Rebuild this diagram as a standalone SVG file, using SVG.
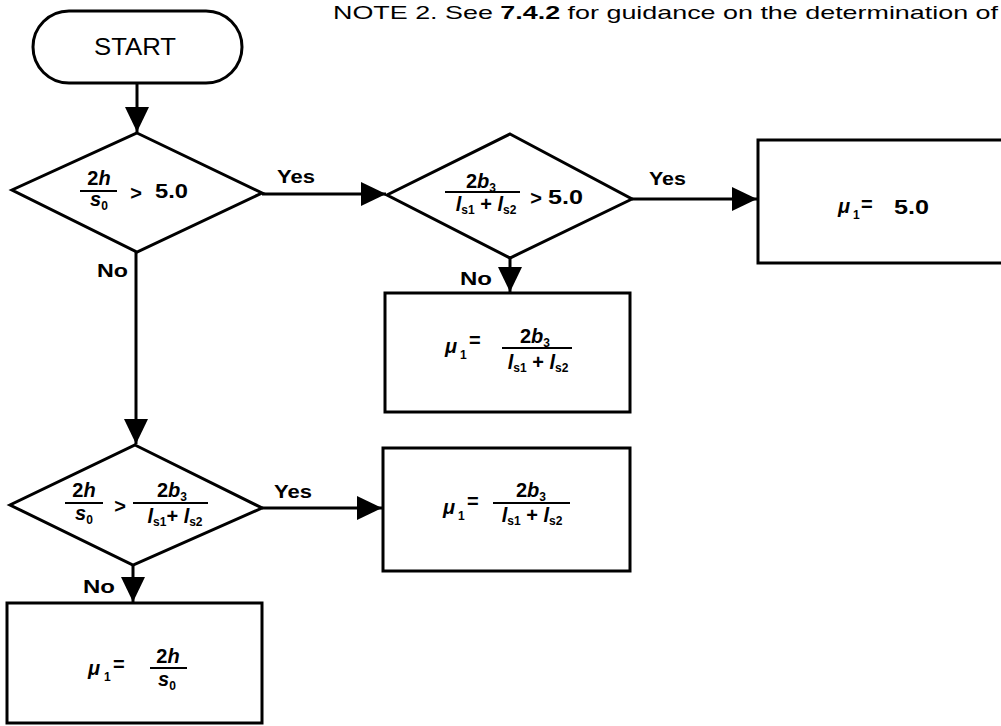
<svg xmlns="http://www.w3.org/2000/svg" width="1001" height="726" viewBox="0 0 1001 726">
<style>
.shape{fill:#fff;stroke:#000;stroke-width:3}
.conn{stroke:#000;stroke-width:3;fill:none}
.fl{stroke:#000;stroke-width:2}
text{font-family:"Liberation Sans",Arial,sans-serif;fill:#000}
.b{font-weight:bold}
.lbl{font-size:18px;font-weight:bold}
.m{font-size:20px;font-weight:bold}
.i{font-style:italic}
.sub{font-size:12px;font-weight:bold}
</style>
<defs>
<marker id="ah" markerWidth="26" markerHeight="26" refX="25" refY="12" orient="auto" markerUnits="userSpaceOnUse">
<path d="M0,0 L25,12 L0,24 z" fill="#000"/>
</marker>
</defs>
<rect width="1001" height="726" fill="#fff"/>
<text id="note" x="333" y="19" font-size="19" textLength="665" lengthAdjust="spacingAndGlyphs">NOTE 2. See <tspan font-weight="bold">7.4.2</tspan> for guidance on the determination of</text>

<g id="connectors">
<path class="conn" d="M137,82 L137,132" marker-end="url(#ah)"/>
<path class="conn" d="M262,194 L386,194" marker-end="url(#ah)"/>
<path class="conn" d="M632,199 L757,199" marker-end="url(#ah)"/>
<path class="conn" d="M510,258 L510,292" marker-end="url(#ah)"/>
<path class="conn" d="M136,252 L136,444" marker-end="url(#ah)"/>
<path class="conn" d="M262,508 L382,508" marker-end="url(#ah)"/>
<path class="conn" d="M133,565 L133,602" marker-end="url(#ah)"/>
<text class="lbl" x="277" y="183" textLength="38" lengthAdjust="spacingAndGlyphs">Yes</text>
<text class="lbl" x="649" y="185" textLength="37" lengthAdjust="spacingAndGlyphs">Yes</text>
<text class="lbl" x="274" y="498" textLength="38" lengthAdjust="spacingAndGlyphs">Yes</text>
<text class="lbl" x="97" y="277" textLength="31" lengthAdjust="spacingAndGlyphs">No</text>
<text class="lbl" x="460" y="285" textLength="32" lengthAdjust="spacingAndGlyphs">No</text>
<text class="lbl" x="83" y="593" textLength="32" lengthAdjust="spacingAndGlyphs">No</text>
</g>

<g id="start">
<rect class="shape" x="33" y="11" width="209" height="72" rx="36" ry="36"/>
<text x="94" y="55" font-size="23" textLength="82" lengthAdjust="spacingAndGlyphs">START</text>
</g>

<g id="d1">
<polygon class="shape" points="137,133 262,193 137,252 12,190"/>
<text class="m" x="99" y="185" text-anchor="middle">2<tspan class="i">h</tspan></text>
<line class="fl" x1="80" y1="191" x2="117" y2="191"/>
<text class="m" x="99" y="206" text-anchor="middle"><tspan class="i">s</tspan><tspan class="sub" dy="4">0</tspan></text>
<text class="m" x="136" y="200" text-anchor="middle">&gt;</text>
<text class="m" x="155" y="198" textLength="33" lengthAdjust="spacingAndGlyphs">5.0</text>
</g>

<g id="d2">
<polygon class="shape" points="510,134 632,199 510,258 387,195"/>
<text class="m" x="481" y="188" text-anchor="middle">2<tspan class="i">b</tspan><tspan class="sub" dy="4">3</tspan></text>
<line class="fl" x1="445" y1="192" x2="520" y2="192"/>
<text class="m" x="486" y="211" text-anchor="middle"><tspan class="i">l</tspan><tspan class="sub" dy="3">s1</tspan><tspan dy="-3"> + </tspan><tspan class="i">l</tspan><tspan class="sub" dy="3">s2</tspan></text>
<text class="m" x="536" y="205" text-anchor="middle">&gt;</text>
<text class="m" x="548" y="204" textLength="35" lengthAdjust="spacingAndGlyphs">5.0</text>
</g>

<g id="box1">
<rect class="shape" x="758" y="140" width="260" height="123"/>
<text class="m i" x="838" y="213">μ</text>
<text class="sub" x="853" y="219">1</text>
<text class="m" x="861" y="211">=</text>
<text class="m" x="894" y="214" textLength="35" lengthAdjust="spacingAndGlyphs">5.0</text>
</g>

<g id="box2">
<rect class="shape" x="385" y="293" width="245" height="119"/>
<text class="m i" x="445" y="353">μ</text>
<text class="sub" x="460" y="359">1</text>
<text class="m" x="469" y="347">=</text>
<text class="m" x="535" y="343" text-anchor="middle">2<tspan class="i">b</tspan><tspan class="sub" dy="4">3</tspan></text>
<line class="fl" x1="502" y1="348" x2="572" y2="348"/>
<text class="m" x="538" y="369" text-anchor="middle"><tspan class="i">l</tspan><tspan class="sub" dy="3">s1</tspan><tspan dy="-3"> + </tspan><tspan class="i">l</tspan><tspan class="sub" dy="3">s2</tspan></text>
</g>

<g id="d3">
<polygon class="shape" points="135,445 262,508 133,565 10,505"/>
<text class="m" x="84" y="497" text-anchor="middle">2<tspan class="i">h</tspan></text>
<line class="fl" x1="65" y1="503" x2="103" y2="503"/>
<text class="m" x="84" y="520" text-anchor="middle"><tspan class="i">s</tspan><tspan class="sub" dy="4">0</tspan></text>
<text class="m" x="120" y="513" text-anchor="middle">&gt;</text>
<text class="m" x="172" y="497" text-anchor="middle">2<tspan class="i">b</tspan><tspan class="sub" dy="4">3</tspan></text>
<line class="fl" x1="133" y1="503" x2="208" y2="503"/>
<text class="m" x="175" y="523" text-anchor="middle"><tspan class="i">l</tspan><tspan class="sub" dy="3">s1</tspan><tspan dy="-3">+ </tspan><tspan class="i">l</tspan><tspan class="sub" dy="3">s2</tspan></text>
</g>

<g id="box3">
<rect class="shape" x="383" y="448" width="247" height="123"/>
<text class="m i" x="443" y="514">μ</text>
<text class="sub" x="458" y="520">1</text>
<text class="m" x="467" y="508">=</text>
<text class="m" x="531" y="497" text-anchor="middle">2<tspan class="i">b</tspan><tspan class="sub" dy="4">3</tspan></text>
<line class="fl" x1="493" y1="503" x2="570" y2="503"/>
<text class="m" x="532" y="522" text-anchor="middle"><tspan class="i">l</tspan><tspan class="sub" dy="3">s1</tspan><tspan dy="-3"> + </tspan><tspan class="i">l</tspan><tspan class="sub" dy="3">s2</tspan></text>
</g>

<g id="box4">
<rect class="shape" x="7" y="603" width="255" height="120"/>
<text class="m i" x="88" y="675">μ</text>
<text class="sub" x="104" y="681">1</text>
<text class="m" x="113" y="671">=</text>
<text class="m" x="168" y="663" text-anchor="middle">2<tspan class="i">h</tspan></text>
<line class="fl" x1="150" y1="668" x2="187" y2="668"/>
<text class="m" x="167" y="686" text-anchor="middle"><tspan class="i">s</tspan><tspan class="sub" dy="4">0</tspan></text>
</g>
</svg>
